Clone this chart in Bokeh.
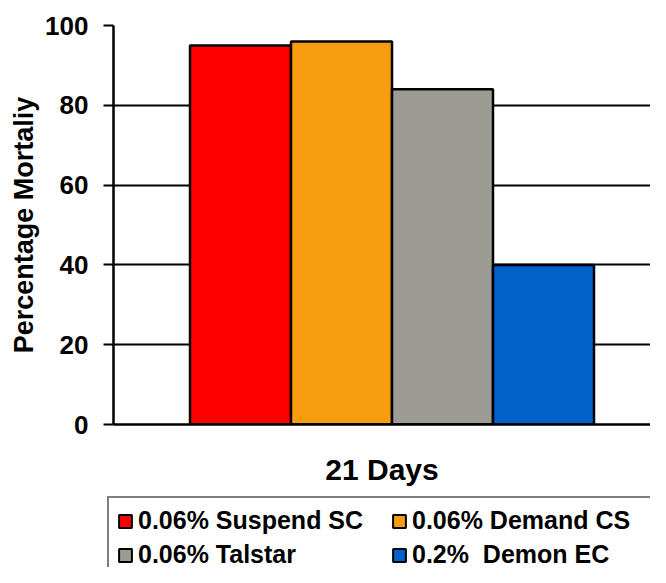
from bokeh.plotting import figure
from bokeh.layouts import column
from bokeh.models import FactorRange, Range1d, Legend, LegendItem, ColumnDataSource, FixedTicker
from bokeh.transform import dodge
from bokeh.embed import file_html
from bokeh.resources import INLINE

# ---- data ----
categories = ["21 Days"]
series = ["0.06% Suspend SC", "0.06% Demand CS", "0.06% Talstar", "0.2%  Demon EC"]
mortality = [95, 96, 84, 40]
colors = ["#FF0000", "#F99D10", "#9D9C94", "#0062C9"]
y_ticks = [0, 20, 40, 60, 80, 100]
y_title = "Percentage Mortaliy"

FONT = "Liberation Sans"

W, H = 650, 567
LEFT, TOP = 113, 25
FRAME_H = 399
H1 = 495
p = figure(
    x_range=FactorRange(*categories, range_padding=0),
    y_range=Range1d(0, 100),
    width=W, height=H1,
    output_backend="svg", toolbar_location=None,
    min_border_left=LEFT, min_border_right=0, min_border_top=TOP,
    min_border_bottom=H1 - TOP - FRAME_H,
    background_fill_color="white", border_fill_color="white",
    outline_line_color=None,
)

frame_w = W - LEFT
bw = 101 / frame_w          # bar width (fraction of the category)
shift = 10 / frame_w        # group sits a little right of the frame centre
n = len(series)
sources = []
for i, (name, val, col) in enumerate(zip(series, mortality, colors)):
    src = ColumnDataSource(dict(x=categories, top=[val]))
    sources.append(src)
    p.vbar(x=dodge("x", (i - (n - 1) / 2) * bw + shift, range=p.x_range), top="top",
           width=bw, source=src, fill_color=col, line_color="black", line_width=2.5)

# grid
p.xgrid.grid_line_color = None
p.ygrid.ticker = FixedTicker(ticks=y_ticks)
p.ygrid.grid_line_color = "black"
p.ygrid.grid_line_width = 2

# y axis
ya = p.yaxis[0]
ya.ticker = FixedTicker(ticks=y_ticks)
ya.axis_line_width = 2.5
ya.axis_line_color = "black"
ya.major_tick_out = 10
ya.major_tick_in = 0
ya.major_tick_line_width = 2
ya.minor_tick_line_color = None
ya.major_label_text_font = FONT
ya.major_label_text_font_size = "26px"
ya.major_label_text_font_style = "bold"
ya.major_label_text_color = "black"
ya.major_label_standoff = 15
ya.axis_label = y_title
ya.axis_label_text_font = FONT
ya.axis_label_text_font_size = "27px"
ya.axis_label_text_font_style = "bold"
ya.axis_label_text_color = "black"
ya.axis_label_standoff = 3

# x axis
xa = p.xaxis[0]
xa.axis_line_width = 2.5
xa.axis_line_color = "black"
xa.major_tick_in = 0
xa.major_tick_out = 0
xa.major_label_text_font = FONT
xa.major_label_text_font_size = "30px"
xa.major_label_text_font_style = "bold"
xa.major_label_text_color = "black"
xa.major_label_standoff = 28

# ---- legend strip (separate figure, same series) ----
LEG_LEFT = 106
p2 = figure(
    x_range=FactorRange(*categories, range_padding=0),
    y_range=Range1d(1000, 1001),
    width=W, height=H - H1,
    output_backend="svg", toolbar_location=None,
    min_border_left=LEG_LEFT, min_border_right=0, min_border_top=0, min_border_bottom=0,
    background_fill_color="white", border_fill_color="white",
    outline_line_color=None,
)
p2.frame_align = False
p2.axis.visible = False
p2.grid.visible = False
items = []
for i, (name, col, src) in enumerate(zip(series, colors, sources)):
    r = p2.vbar(x=dodge("x", (i - (n - 1) / 2) * bw, range=p2.x_range), top="top",
                width=bw, source=src, fill_color=col, line_color="black", line_width=2)
    items.append(LegendItem(label=name, renderers=[r]))

legend = Legend(
    items=items, location="top_left", ncols=2, orientation="horizontal",
    border_line_color="black", border_line_width=2, background_fill_color="white",
    background_fill_alpha=1.0,
    glyph_width=16, glyph_height=16, label_standoff=5, padding=8, spacing=5,
    label_width=248, margin=1,
    label_text_font=FONT, label_text_font_size="25px", label_text_font_style="bold",
    label_text_color="black",
)
p2.add_layout(legend, "center")

layout = column(p, p2, spacing=0)
open("out.html", "w").write(file_html(layout, INLINE))
